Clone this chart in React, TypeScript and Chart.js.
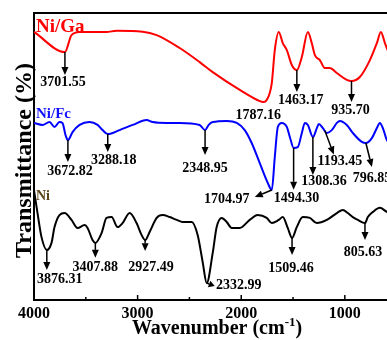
import React, { useEffect, useRef } from "react";
import { Chart, registerables } from "chart.js";

Chart.register(...registerables);

const FONT = '"Liberation Serif", "Times New Roman", serif';

// Wavenumber (cm-1) and transmittance (arbitrary, offset) readings
const WN_GA = [4000, 3702, 3638, 3560, 3300, 3203, 2952, 2816, 2594, 2401, 2275, 2014, 1821, 1787, 1754, 1705, 1676, 1638, 1599, 1560, 1512, 1463, 1415, 1357, 1319, 1290, 1241, 1193, 1145, 1077, 981, 936, 855, 758, 691, 652, 613, 565, 517, 400];
const T_GA = [93.4, 86.4, 92.3, 93.4, 93.4, 93.8, 93.5, 92.3, 87.8, 82.9, 79.4, 73.2, 69.3, 69.0, 69.7, 75.6, 87.1, 93.4, 89.5, 87.1, 81.9, 80.1, 84.7, 93.4, 89.5, 85.4, 83.6, 80.8, 80.8, 79.1, 76.7, 76.3, 77.7, 83.6, 89.5, 93.4, 89.5, 85.4, 83.6, 81.9];

const WN_FE = [4000, 3918, 3850, 3802, 3754, 3725, 3696, 3673, 3628, 3560, 3464, 3386, 3338, 3288, 3174, 3048, 2913, 2855, 2720, 2594, 2401, 2349, 2314, 2275, 2140, 2043, 1966, 1899, 1821, 1744, 1705, 1676, 1647, 1609, 1560, 1531, 1494, 1454, 1415, 1386, 1357, 1308, 1270, 1251, 1212, 1174, 1126, 1077, 1048, 981, 923, 836, 797, 739, 691, 662, 633, 594, 546, 469, 400];
const T_FE = [61.7, 61.0, 62.0, 60.3, 62.0, 61.7, 57.5, 55.7, 58.5, 61.0, 62.0, 61.0, 59.2, 57.8, 59.2, 61.0, 62.7, 62.0, 61.7, 61.7, 61.0, 59.2, 61.0, 62.0, 62.4, 61.7, 59.2, 54.7, 47.7, 40.8, 38.3, 49.8, 60.3, 61.7, 60.3, 56.8, 53.0, 53.3, 58.2, 61.7, 61.0, 56.8, 59.9, 61.3, 59.9, 58.2, 59.2, 61.7, 62.4, 61.0, 58.2, 55.1, 54.7, 56.4, 59.9, 61.7, 59.9, 55.7, 54.0, 55.7, 57.5];

const WN_NI = [4000, 3966, 3928, 3876, 3831, 3802, 3754, 3705, 3638, 3580, 3512, 3483, 3435, 3408, 3348, 3300, 3251, 3193, 3145, 3077, 3010, 2961, 2927, 2884, 2816, 2758, 2691, 2623, 2565, 2478, 2420, 2372, 2333, 2275, 2237, 2188, 2140, 2092, 2014, 1918, 1841, 1754, 1705, 1638, 1599, 1551, 1509, 1464, 1406, 1338, 1270, 1174, 1077, 1019, 971, 923, 874, 806, 778, 729, 662, 594, 517, 400];
const T_NI = [38.3, 30.3, 22.0, 17.4, 19.9, 25.4, 29.6, 30.3, 27.9, 25.1, 26.1, 25.1, 20.9, 19.9, 23.3, 28.6, 28.9, 25.4, 26.8, 30.3, 26.8, 22.6, 20.9, 23.7, 28.6, 29.6, 28.9, 27.9, 27.2, 27.2, 22.6, 13.2, 5.9, 16.4, 25.4, 28.6, 27.2, 25.1, 25.1, 27.9, 29.6, 28.6, 26.8, 27.9, 28.9, 25.1, 21.6, 25.4, 28.9, 28.6, 26.8, 27.9, 30.3, 31.4, 30.3, 28.9, 27.9, 26.8, 28.9, 30.7, 32.1, 30.7, 29.6, 30.7];

const SERIES_NAMES = ["Ni/Ga", "Ni/Fc", "Ni"];
const SERIES_COLORS = ["#ff0000", "#0000ff", "#000000"];
const SERIES_LABEL_COLORS = ["#ff0000", "#1010ff", "#5a4618"];

const X_TICKS = [4000, 3000, 2000, 1000];
const X_MINOR = [3500, 2500, 1500, 500];

// peak annotations: series index, text, arrow offset, label offset (px)
const PEAKS = [
  { s: 0, t: "3701.55", a: [0, 23], l: [-2, 30] },
  { s: 0, t: "1787.16", a: null, l: [-5, 13] },
  { s: 0, t: "1463.17", a: [0, 22], l: [4, 30] },
  { s: 0, t: "935.70", a: [0, 21], l: [-1, 29] },
  { s: 1, t: "3672.82", a: [0, 22], l: [2, 31] },
  { s: 1, t: "3288.18", a: [0, 18], l: [6, 26] },
  { s: 1, t: "2348.95", a: [0, 25], l: [0, 38] },
  { s: 1, t: "1704.97", a: [-17, 7], l: [-45, 9] },
  { s: 1, t: "1494.30", a: [0, 42], l: [3, 51] },
  { s: 1, t: "1308.36", a: [0, 38], l: [11, 44] },
  { s: 1, t: "1193.45", a: [9, 24], l: [15, 31] },
  { s: 1, t: "796.85", a: [6, 24], l: [6, 35] },
  { s: 2, t: "3876.31", a: [0, 20], l: [13, 29] },
  { s: 2, t: "3407.88", a: [0, 15], l: [0, 25] },
  { s: 2, t: "2927.49", a: [0, 11], l: [6, 27] },
  { s: 2, t: "2332.99", a: [8, 3], l: [32, 2] },
  { s: 2, t: "1509.46", a: [0, 17], l: [-1, 30] },
  { s: 2, t: "805.63", a: [0, 17], l: [-2, 29] },
];

const SERIES = [
  [WN_GA, T_GA],
  [WN_FE, T_FE],
  [WN_NI, T_NI],
];

function valueAt(wns: number[], vals: number[], w: number) {
  for (let i = 0; i < wns.length - 1; i++) {
    if (wns[i] >= w && w >= wns[i + 1]) {
      const f = (wns[i] - w) / (wns[i] - wns[i + 1]);
      return vals[i] + f * (vals[i + 1] - vals[i]);
    }
  }
  return vals[vals.length - 1];
}

function drawArrow(ctx: CanvasRenderingContext2D, x0: number, y0: number, x1: number, y1: number) {
  const ang = Math.atan2(y1 - y0, x1 - x0);
  const len = Math.hypot(x1 - x0, y1 - y0);
  const hl = Math.min(8, len * 0.7);
  const hw = 3.5;
  const bx = x1 - hl * Math.cos(ang);
  const by = y1 - hl * Math.sin(ang);
  ctx.beginPath();
  ctx.moveTo(x0, y0);
  ctx.lineTo(bx, by);
  ctx.stroke();
  ctx.beginPath();
  ctx.moveTo(x1, y1);
  ctx.lineTo(bx + hw * Math.sin(ang), by - hw * Math.cos(ang));
  ctx.lineTo(bx - hw * Math.sin(ang), by + hw * Math.cos(ang));
  ctx.closePath();
  ctx.fill();
}

const overlay = {
  id: "overlay",
  afterDraw(chart: any) {
    const { ctx, chartArea, scales } = chart;
    const { left, right, top, bottom } = chartArea;
    const x = scales.x;
    const y = scales.y;
    ctx.save();
    // top frame
    ctx.strokeStyle = "#000";
    ctx.lineWidth = 2;
    ctx.beginPath();
    ctx.moveTo(left - 1, top);
    ctx.lineTo(right, top);
    ctx.stroke();
    // inward ticks
    ctx.lineWidth = 1.5;
    X_TICKS.forEach((v) => {
      const px = x.getPixelForValue(v);
      ctx.beginPath();
      ctx.moveTo(px, bottom);
      ctx.lineTo(px, bottom - 5);
      ctx.stroke();
    });
    X_MINOR.forEach((v) => {
      const px = x.getPixelForValue(v);
      ctx.beginPath();
      ctx.moveTo(px, bottom);
      ctx.lineTo(px, bottom - 3);
      ctx.stroke();
    });
    // series labels
    ctx.textAlign = "left";
    ctx.textBaseline = "alphabetic";
    const labelSpecs = [
      { size: 19, base: 32 },
      { size: 15, base: 118 },
      { size: 14, base: 200 },
    ];
    SERIES_NAMES.forEach((n, i) => {
      ctx.font = `bold ${labelSpecs[i].size}px ${FONT}`;
      ctx.fillStyle = SERIES_LABEL_COLORS[i];
      ctx.fillText(n, left + 2, labelSpecs[i].base);
    });
    // peak annotations
    ctx.fillStyle = "#000";
    ctx.strokeStyle = "#000";
    ctx.lineWidth = 1.5;
    ctx.font = `bold 14px ${FONT}`;
    ctx.textAlign = "center";
    ctx.textBaseline = "middle";
    PEAKS.forEach((p) => {
      const w = parseFloat(p.t);
      const [wns, vals] = SERIES[p.s];
      const px = x.getPixelForValue(w);
      const py = y.getPixelForValue(valueAt(wns, vals, w));
      if (p.a) drawArrow(ctx, px, py, px + p.a[0], py + p.a[1]);
      ctx.fillText(p.t, px + p.l[0], py + p.l[1]);
    });
    // y title
    ctx.save();
    ctx.translate(31, (top + bottom) / 2 + 4);
    ctx.rotate(-Math.PI / 2);
    ctx.font = `bold 24px ${FONT}`;
    ctx.textAlign = "center";
    ctx.textBaseline = "alphabetic";
    ctx.fillText("Transmittance (%)", 0, 0);
    ctx.restore();
    // x title with superscript
    const mainFont = `bold 20px ${FONT}`;
    const supFont = `bold 13px ${FONT}`;
    const p1 = "Wavenumber (cm";
    const p2 = "-1";
    const p3 = ")";
    ctx.textAlign = "left";
    ctx.textBaseline = "alphabetic";
    ctx.font = mainFont;
    const w1 = ctx.measureText(p1).width;
    const w3 = ctx.measureText(p3).width;
    ctx.font = supFont;
    const w2 = ctx.measureText(p2).width;
    const total = w1 + w2 + w3;
    const cx = 217;
    const base = 334;
    let sx = cx - total / 2;
    ctx.font = mainFont;
    ctx.fillText(p1, sx, base);
    sx += w1;
    ctx.font = supFont;
    ctx.fillText(p2, sx, base - 8);
    sx += w2;
    ctx.font = mainFont;
    ctx.fillText(p3, sx, base);
    ctx.restore();
  },
};

export default function App() {
  const ref = useRef<HTMLCanvasElement | null>(null);
  useEffect(() => {
    if (!ref.current) return;
    const chart = new Chart(ref.current, {
      type: "line",
      data: {
        datasets: SERIES.map(([wns, vals], i) => ({
          label: SERIES_NAMES[i],
          data: wns.map((w, j) => ({ x: w, y: vals[j] })),
          borderColor: SERIES_COLORS[i],
          backgroundColor: SERIES_COLORS[i],
          borderWidth: 2,
          pointRadius: 0,
          fill: false,
          cubicInterpolationMode: "monotone" as const,
        })),
      },
      options: {
        animation: false,
        responsive: true,
        maintainAspectRatio: false,
        layout: { padding: { top: 13, right: 13, left: 0, bottom: 0 } },
        plugins: { legend: { display: false }, tooltip: { enabled: false } },
        scales: {
          x: {
            type: "linear",
            reverse: true,
            min: 400,
            max: 4000,
            grid: { display: false, drawTicks: false },
            border: { color: "#000", width: 2 },
            ticks: {
              color: "#000",
              font: { family: FONT, size: 16, weight: "bold" },
              padding: 4,
              maxRotation: 0,
              autoSkip: false,
              callback: (v: any) => String(v),
            },
            afterBuildTicks: (s: any) => {
              s.ticks = X_TICKS.map((v) => ({ value: v }));
            },
            afterFit: (s: any) => {
              s.height = 40;
            },
          },
          y: {
            min: 0,
            max: 100,
            ticks: { display: false },
            grid: { display: false, drawTicks: false },
            border: { color: "#000", width: 2 },
            afterFit: (s: any) => {
              s.width = 34;
            },
          },
        },
      } as any,
      plugins: [overlay],
    });
    return () => chart.destroy();
  }, []);
  return (
    <div style={{ position: "fixed", left: 0, top: 0, width: 387, height: 340, overflow: "hidden", background: "#fff" }}>
      <div style={{ position: "relative", width: 420, height: 340 }}>
        <canvas ref={ref} />
      </div>
    </div>
  );
}
